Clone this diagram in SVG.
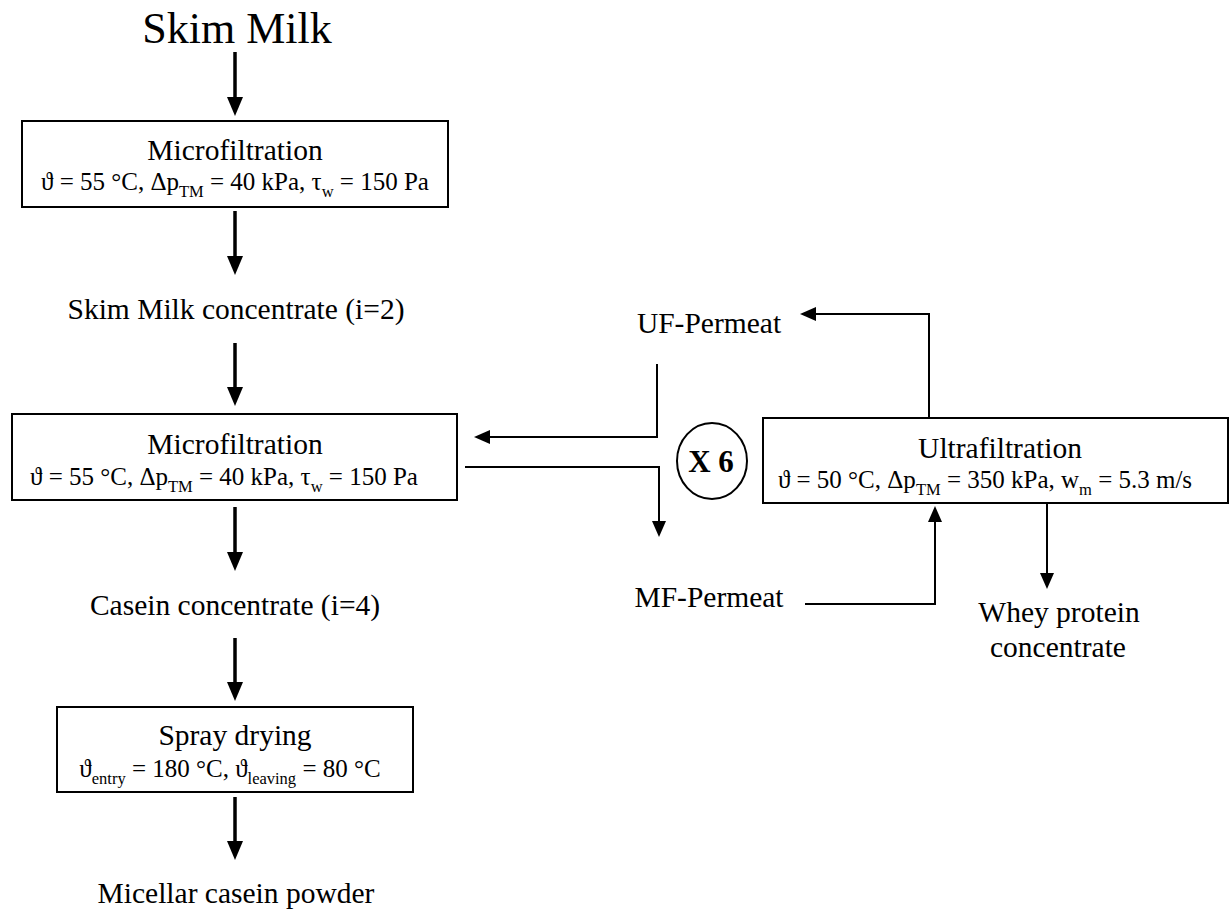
<svg xmlns="http://www.w3.org/2000/svg" width="1230" height="910" viewBox="0 0 1230 910">
<style>
text{font-family:"Liberation Serif","Times New Roman","DejaVu Serif",serif;fill:#000}
.lbl{font-size:29.5px;text-anchor:middle}
.title{font-size:44px;text-anchor:middle}
.par{font-size:25px;text-anchor:middle}
.sub{font-size:16.5px}
.box{fill:#fff;stroke:#000;stroke-width:2}
.thick{fill:none;stroke:#000;stroke-width:3.5}
.thin{fill:none;stroke:#000;stroke-width:2}
.x6{font-size:31px;font-weight:bold;text-anchor:middle}
</style>
<defs>
<marker id="ahT" markerUnits="userSpaceOnUse" markerWidth="22" markerHeight="18" refX="1" refY="8" orient="auto" overflow="visible">
<path d="M0,0 L19,8 L0,16 z" fill="#000"/>
</marker>
<marker id="ahS" markerUnits="userSpaceOnUse" markerWidth="18" markerHeight="16" refX="1" refY="7" orient="auto" overflow="visible">
<path d="M0,0 L16,7 L0,14 z" fill="#000"/>
</marker>
</defs>
<rect width="1230" height="910" fill="#fff"/>

<g id="skim-milk"><text class="title" x="237" y="43">Skim Milk</text></g>

<g id="mf1">
<rect class="box" x="22" y="121" width="426" height="86"/>
<text class="lbl" x="235" y="160">Microfiltration</text>
<text class="par" x="235" y="190">ϑ = 55 °C, Δp<tspan class="sub" dy="7">TM</tspan><tspan dy="-7"> = 40 kPa, τ</tspan><tspan class="sub" dy="7">w</tspan><tspan dy="-7"> = 150 Pa</tspan></text>
</g>

<g id="smc"><text class="lbl" x="236" y="319">Skim Milk concentrate (i=2)</text></g>

<g id="mf2">
<rect class="box" x="12" y="414" width="445" height="86"/>
<text class="lbl" x="235" y="454">Microfiltration</text>
<text class="par" x="224" y="485">ϑ = 55 °C, Δp<tspan class="sub" dy="7">TM</tspan><tspan dy="-7"> = 40 kPa, τ</tspan><tspan class="sub" dy="7">w</tspan><tspan dy="-7"> = 150 Pa</tspan></text>
</g>

<g id="cc"><text class="lbl" x="235" y="615">Casein concentrate (i=4)</text></g>

<g id="spray">
<rect class="box" x="57" y="707" width="356" height="85"/>
<text class="lbl" x="235" y="745">Spray drying</text>
<text class="par" x="230" y="777">ϑ<tspan class="sub" dy="7">entry</tspan><tspan dy="-7"> = 180 °C, ϑ</tspan><tspan class="sub" dy="7">leaving</tspan><tspan dy="-7"> = 80 °C</tspan></text>
</g>

<g id="mcp"><text class="lbl" x="236" y="903">Micellar casein powder</text></g>

<g id="uf-permeat"><text class="lbl" x="709" y="333">UF-Permeat</text></g>
<g id="mf-permeat"><text class="lbl" x="709" y="607">MF-Permeat</text></g>

<g id="x6">
<ellipse cx="712" cy="461" rx="35" ry="38" fill="#fff" stroke="#000" stroke-width="2"/>
<text class="x6" x="711" y="472">X 6</text>
</g>

<g id="uf">
<rect class="box" x="763" y="418" width="465" height="85"/>
<text class="lbl" x="1000" y="458">Ultrafiltration</text>
<text class="par" x="985" y="488">ϑ = 50 °C, Δp<tspan class="sub" dy="7">TM</tspan><tspan dy="-7"> = 350 kPa, w</tspan><tspan class="sub" dy="7">m</tspan><tspan dy="-7"> = 5.3 m/s</tspan></text>
</g>

<g id="wpc">
<text class="lbl" x="1059" y="622">Whey protein</text>
<text class="lbl" x="1058" y="657">concentrate</text>
</g>

<g id="connectors">
<path class="thick" d="M235,52 V98" marker-end="url(#ahT)"/>
<path class="thick" d="M235,211 V257" marker-end="url(#ahT)"/>
<path class="thick" d="M235,343 V388" marker-end="url(#ahT)"/>
<path class="thick" d="M235,507 V553" marker-end="url(#ahT)"/>
<path class="thick" d="M235,638 V683" marker-end="url(#ahT)"/>
<path class="thick" d="M235,797 V842" marker-end="url(#ahT)"/>
<path class="thin" d="M929,418 V314 H815" marker-end="url(#ahS)"/>
<path class="thin" d="M657,364 V437 H489" marker-end="url(#ahS)"/>
<path class="thin" d="M465,467 H659 V522" marker-end="url(#ahS)"/>
<path class="thin" d="M805,604 H935 V521" marker-end="url(#ahS)"/>
<path class="thin" d="M1047,503 V574" marker-end="url(#ahS)"/>
</g>
</svg>
